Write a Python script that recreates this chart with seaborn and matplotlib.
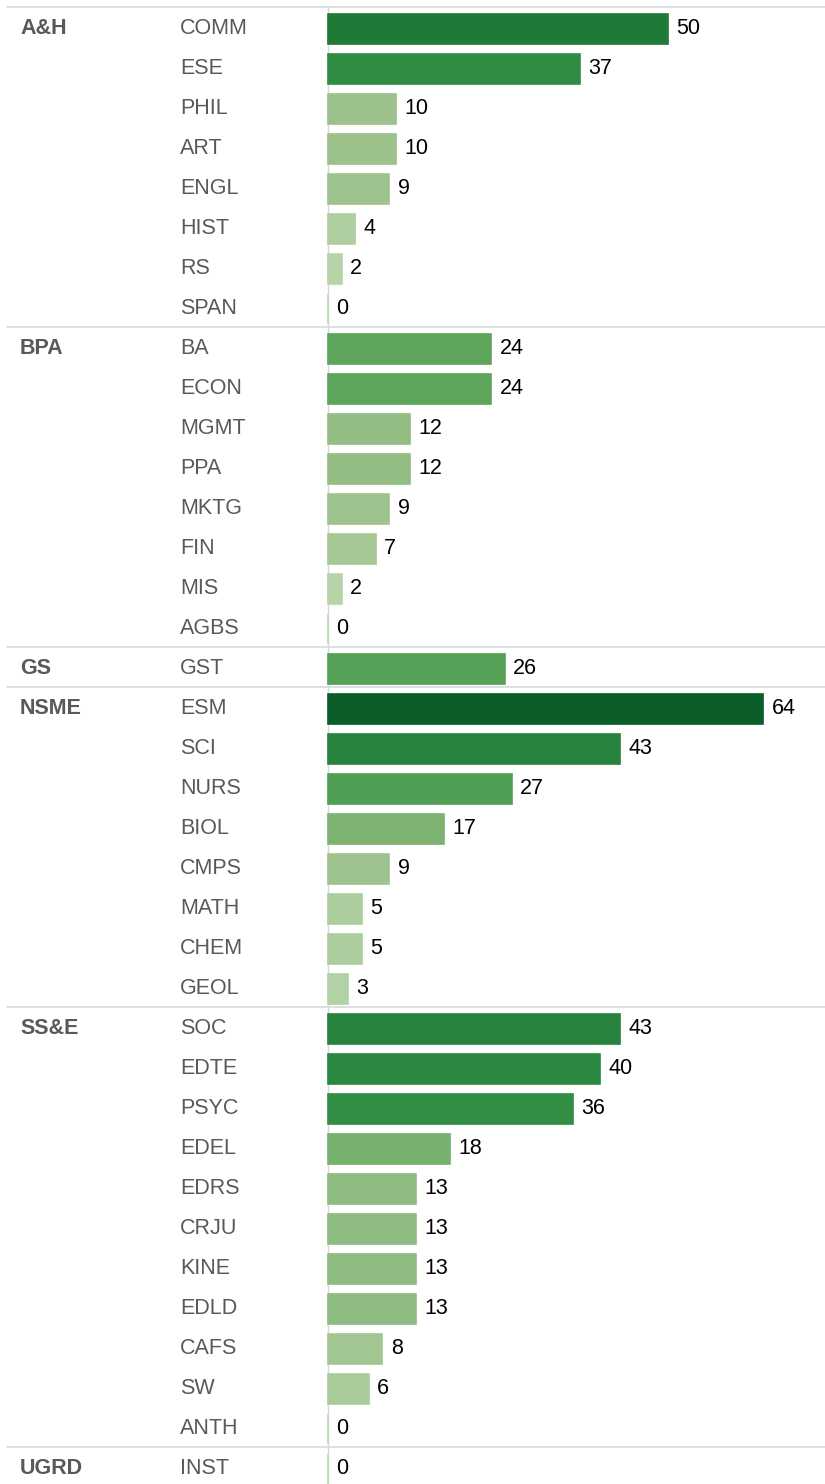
"""
plot.py
-------
Horizontal bar chart of counts per department, grouped by college.
"""

import matplotlib
matplotlib.use("Agg")
import matplotlib.pyplot as plt
import matplotlib.transforms as mtransforms
from matplotlib.colors import LinearSegmentedColormap, Normalize
import pandas as pd
import seaborn as sns

# ---------------------------------------------------------------------------
# Data
# ---------------------------------------------------------------------------

colleges = ["A&H"] * 8 + ["BPA"] * 8 + ["GS"] + ["NSME"] * 8 + ["SS&E"] * 11 + ["UGRD"]
departments = [
    "COMM", "ESE", "PHIL", "ART", "ENGL", "HIST", "RS", "SPAN",
    "BA", "ECON", "MGMT", "PPA", "MKTG", "FIN", "MIS", "AGBS",
    "GST",
    "ESM", "SCI", "NURS", "BIOL", "CMPS", "MATH", "CHEM", "GEOL",
    "SOC", "EDTE", "PSYC", "EDEL", "EDRS", "CRJU", "KINE", "EDLD", "CAFS", "SW", "ANTH",
    "INST",
]
counts = [
    50, 37, 10, 10, 9, 4, 2, 0,
    24, 24, 12, 12, 9, 7, 2, 0,
    26,
    64, 43, 27, 17, 9, 5, 5, 3,
    43, 40, 36, 18, 13, 13, 13, 13, 8, 6, 0,
    0,
]

df = pd.DataFrame({"college": colleges, "dept": departments, "count": counts})

# ---------------------------------------------------------------------------
# Styling
# ---------------------------------------------------------------------------

W, H, DPI = 825, 1484, 100
ROW_TOP, ROW_H = 9, 40          # bars sit ~2px below the row centre
BAR_X0 = 328
PX_PER_UNIT = 6.8
LABEL_GREY = "#595959"
RULE_GREY = "#d9d9d9"
FONT_SIZE = 15.5
SHIFT = 2 / ROW_H               # rules sit 2px above the bar layout grid

sns.set_style("white")
plt.rcParams["font.family"] = ["Liberation Sans", "DejaVu Sans"]

cmap = LinearSegmentedColormap.from_list(
    "greens",
    [(0.0, "#bcd9b0"), (10 / 64, "#9cc18a"), (24 / 64, "#5ca55b"),
     (37 / 64, "#2f8c42"), (50 / 64, "#1f7a38"), (1.0, "#0b5e2a")],
)
norm = Normalize(0, 64)
palette = {d: cmap(norm(v)) for d, v in zip(departments, counts)}

fig = plt.figure(figsize=(W / DPI, H / DPI), dpi=DPI)
n = len(departments)
ax_bottom = 1 - (ROW_TOP + n * ROW_H) / H
ax = fig.add_axes([(BAR_X0 - 1) / W, ax_bottom, (W - BAR_X0 + 1) / W, n * ROW_H / H])

sns.barplot(
    data=df, x="count", y="dept", hue="dept", palette=palette, order=departments,
    orient="h", width=0.75, legend=False, ax=ax, saturation=1,
)
for patch, dept in zip(ax.patches, departments):
    patch.set_edgecolor(palette[dept])
    patch.set_linewidth(1.2)
    patch.set_zorder(3)

ax.set_xlim(-1 / PX_PER_UNIT, (W - BAR_X0) / PX_PER_UNIT)
ax.set_ylim(n - 0.5, -0.5)
ax.set_xticks([])
ax.set_yticks([])
ax.set_xlabel("")
ax.set_ylabel("")
for side in ["top", "right", "bottom", "left"]:
    ax.spines[side].set_visible(False)
ax.plot([0, 0], [-0.5 - SHIFT, n], color=RULE_GREY, linewidth=1,
        clip_on=False, zorder=1)

# value labels
for i, v in enumerate(counts):
    ax.annotate(str(v), (v, i), xytext=(6, 0), textcoords="offset points",
                va="center", ha="left", fontsize=FONT_SIZE, color="black")

# row labels and group separators
trans = mtransforms.blended_transform_factory(fig.transFigure, ax.transData)
prev = None
for i, (col, dept) in enumerate(zip(colleges, departments)):
    if col != prev:
        ax.text(20 / W, i, col, transform=trans, va="center", ha="left",
                fontsize=FONT_SIZE, fontweight="bold", color=LABEL_GREY)
        y = i - 0.5 - SHIFT
        ax.plot([7 / W, 1], [y, y], transform=trans, color=RULE_GREY,
                linewidth=1.2, clip_on=False, zorder=0)
        prev = col
    ax.text(180 / W, i, dept, transform=trans, va="center", ha="left",
            fontsize=FONT_SIZE, color=LABEL_GREY)

fig.savefig("out.png", dpi=DPI)
